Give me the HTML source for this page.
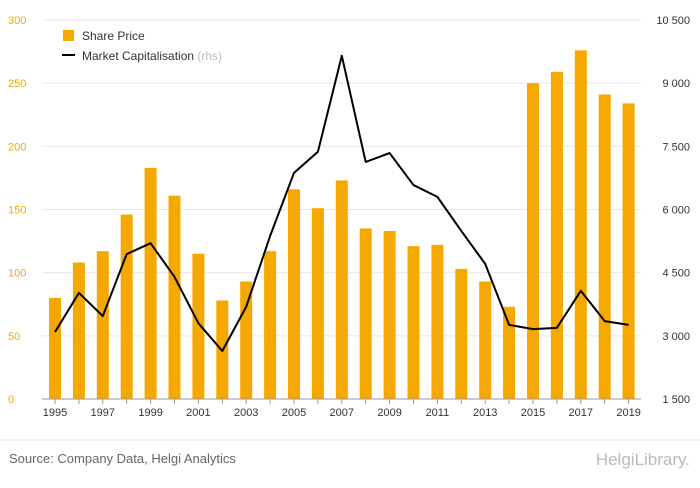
<!DOCTYPE html>
<html><head><meta charset="utf-8"><style>
body{margin:0;background:#fff;font-family:"Liberation Sans",sans-serif;}
svg text{font-family:"Liberation Sans",sans-serif;}
</style></head><body>
<svg width="700" height="483" id="c">
<g id="grid"></g>
<g id="bars"></g>
<g id="axes"></g>
<g>
<rect x="63" y="30" width="11" height="11" fill="#f5a800"/>
<text x="82" y="40" font-size="12" fill="#333">Share Price</text>
<line x1="62" y1="55" x2="75" y2="55" stroke="#000" stroke-width="2"/>
<text x="82" y="60" font-size="12" fill="#333">Market Capitalisation <tspan fill="#bbb">(rhs)</tspan></text>
</g>
<line x1="0" y1="440" x2="700" y2="440" stroke="#e5e5e5"/>
<text x="9" y="463" font-size="13" fill="#666">Source: Company Data, Helgi Analytics</text>
<text x="690" y="465" font-size="17" fill="#bbb" text-anchor="end">HelgiLibrary.</text>
</svg>
<script>
const years=[1995,1996,1997,1998,1999,2000,2001,2002,2003,2004,2005,2006,2007,2008,2009,2010,2011,2012,2013,2014,2015,2016,2017,2018,2019];
const sharePrice=[80,108,117,146,183,161,115,78,93,117,166,151,173,135,133,121,122,103,93,73,250,259,276,241,234];
const marketCap=[3090,4020,3470,4940,5200,4400,3300,2640,3690,5370,6870,7370,9650,7130,7340,6580,6300,5490,4710,3260,3160,3190,4070,3350,3260];
const leftTicks=[0,50,100,150,200,250,300];
const rightTicks=[1500,3000,4500,6000,7500,9000,10500];
const rightTickLabels=["1 500","3 000","4 500","6 000","7 500","9 000","10 500"];
const NS="http://www.w3.org/2000/svg";
const y0=399,y1=20,xL=42,xR=641;
const yL=v=>y0-(v/300)*(y0-y1);
const yR=v=>y0-((v-1500)/9000)*(y0-y1);
const xS=i=>55+i*23.9;
function mk(tag,attrs,parent,txt){const e=document.createElementNS(NS,tag);for(const k in attrs)e.setAttribute(k,attrs[k]);if(txt!==undefined)e.textContent=txt;document.getElementById(parent)?document.getElementById(parent).appendChild(e):parent.appendChild(e);return e;}
leftTicks.forEach((t,i)=>{
 const y=yL(t);
 if(t>0){const g=mk('line',{x1:xL,x2:xR,y1:y,y2:y,stroke:'#e8e8e8'},'grid');
 
 }
 const l=mk('text',{x:8,y:y+4,'font-size':11,fill:'#f5a800'},'axes',String(t));
 
 
 const r=mk('text',{x:690,y:yR(rightTicks[i])+4,'font-size':11,fill:'#333','text-anchor':'end'},'axes',rightTickLabels[i]);
 
 
});
const ax=mk('line',{x1:xL,x2:xR,y1:y0,y2:y0,stroke:'#999'},'axes');


years.forEach((yr,i)=>{
 const x=xS(i);
 const b=mk('rect',{x:x-6,y:yL(sharePrice[i]),width:12,height:y0-yL(sharePrice[i]),fill:'#f5a800'},'bars');
 
 
 const tk=mk('line',{x1:x,x2:x,y1:y0,y2:y0+5,stroke:'#999'},'axes');
 
 
 if(i%2===0){const t=mk('text',{x:x,y:416,'font-size':11,fill:'#333','text-anchor':'middle'},'axes',String(yr));
 
 }
});
const pts=marketCap.map((v,i)=>xS(i)+','+yR(v)).join(' ');
const pl=mk('polyline',{points:pts,fill:'none',stroke:'#000','stroke-width':2,'stroke-linejoin':'round'},'c');


</script>
</body></html>
